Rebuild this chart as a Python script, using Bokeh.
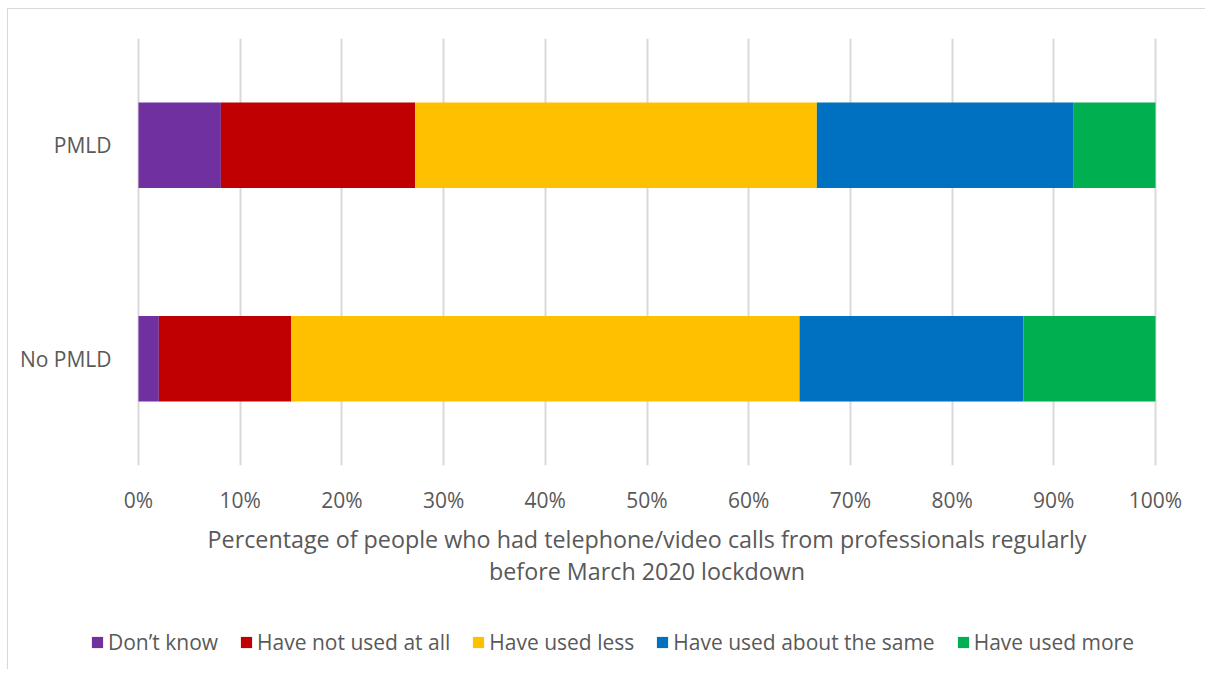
from bokeh.plotting import figure
from bokeh.layouts import column
from bokeh.models import Legend, LegendItem, FactorRange, Range1d, ColumnDataSource, FixedTicker
from bokeh.embed import file_html
from bokeh.resources import INLINE

groups = ["No PMLD", "PMLD"]
categories = ["Don\u2019t know", "Have not used at all", "Have used less",
              "Have used about the same", "Have used more"]
pmld = [8.1, 19.1, 39.5, 25.2, 8.1]
no_pmld = [2.0, 13.0, 50.0, 22.0, 13.0]
colors = ["#7030A0", "#C00000", "#FFC000", "#0070C0", "#00B050"]
ticks = list(range(0, 101, 10))
tick_labels = [f"{t}%" for t in ticks]
x_title = ("Percentage of people who had telephone/video calls from professionals regularly\n"
           "before March 2020 lockdown")

FONT = "Open Sans"
TXT = "#595959"

data = {"group": groups}
keys = []
for i, c in enumerate(categories):
    k = f"s{i}"
    keys.append(k)
    data[k] = [no_pmld[i], pmld[i]]
source = ColumnDataSource(data)

# frame spans a little beyond 0..100 so that the legend strip below has room
p = figure(y_range=FactorRange(factors=groups, range_padding=0),
           x_range=Range1d(-4.916, 104.916),
           frame_width=1117, frame_height=427,
           min_border_left=80, min_border_right=0,
           min_border_top=29, min_border_bottom=150,
           output_backend="svg", toolbar_location=None)

renderers = p.hbar_stack(keys, y="group", height=0.4, color=colors,
                         line_color=None, source=source)

p.outline_line_color = None
p.ygrid.grid_line_color = None
p.xgrid.grid_line_color = "#d9d9d9"
p.xgrid.grid_line_width = 2
p.xgrid.ticker = FixedTicker(ticks=ticks)

p.xaxis.ticker = FixedTicker(ticks=ticks)
p.xaxis.major_label_overrides = {t: l for t, l in zip(ticks, tick_labels)}
for ax in (p.xaxis, p.yaxis):
    ax.axis_line_color = None
    ax.major_tick_line_color = None
    ax.minor_tick_line_color = None
    ax.major_label_text_font = FONT
    ax.major_label_text_color = TXT
    ax.major_label_text_font_size = "21px"
p.xaxis.major_label_standoff = 14
p.yaxis.major_label_standoff = -29
p.xaxis.axis_label = x_title
p.xaxis.axis_label_text_font = FONT
p.xaxis.axis_label_text_font_style = "normal"
p.xaxis.axis_label_text_color = TXT
p.xaxis.axis_label_text_font_size = "23.3px"
p.xaxis.axis_label_text_line_height = 1.0
p.xaxis.axis_label_standoff = 6

# legend strip: proxies use the same data, kept out of its (hidden) view range
lg = figure(y_range=FactorRange(factors=groups), x_range=Range1d(-3, -2),
            frame_width=1117, frame_height=54,
            min_border_left=80, min_border_right=0, min_border_top=0, min_border_bottom=0,
            x_axis_location=None, y_axis_location=None,
            output_backend="svg", toolbar_location=None)
lg.outline_line_color = None
lg.xgrid.grid_line_color = None
lg.ygrid.grid_line_color = None
proxies = lg.hbar_stack(keys, y="group", height=0.4, color=colors,
                        line_color=None, source=source)
legend = Legend(items=[LegendItem(label=c, renderers=[r]) for c, r in zip(categories, proxies)],
                orientation="horizontal", location="center_left",
                label_text_font=FONT, label_text_color=TXT, label_text_font_size="21px",
                glyph_width=14, glyph_height=14, spacing=21, label_standoff=4,
                border_line_color=None, background_fill_alpha=0, margin=2, padding=0)
lg.add_layout(legend, "center")

layout = column(p, lg, spacing=0)
layout.styles = {"border-left": "1px solid #d9d9d9", "border-top": "1px solid #d9d9d9",
                 "margin-left": "7px", "margin-top": "8px"}

open("out.html", "w").write(file_html(layout, INLINE))
